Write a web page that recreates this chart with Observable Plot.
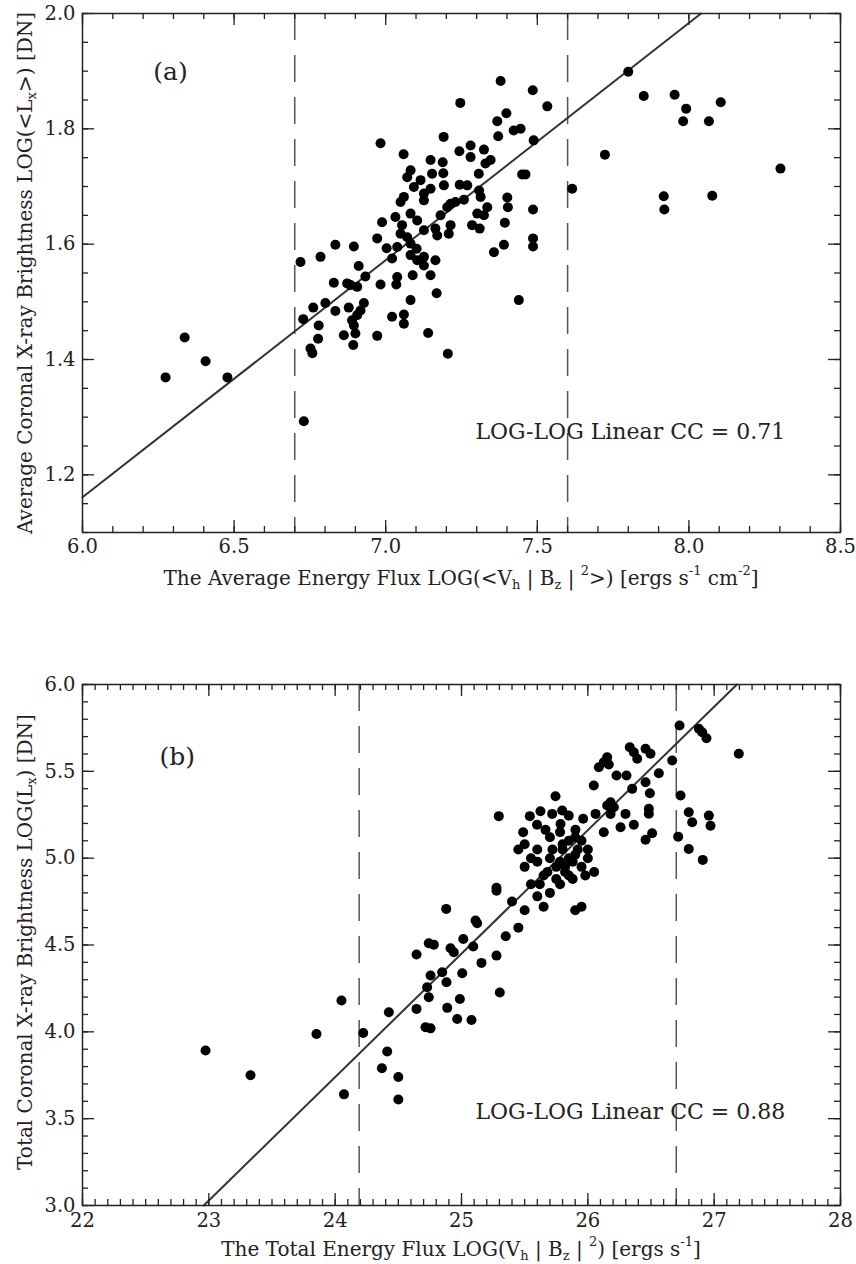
<!DOCTYPE html>
<html><head><meta charset="utf-8">
<script src="https://cdn.jsdelivr.net/npm/d3@7"></script>
<script src="https://cdn.jsdelivr.net/npm/@observablehq/plot@0.6"></script>
<style>
body{margin:0;background:#fff;}
#chart{width:856px;}
#chart svg{display:block;}
</style></head><body><div id="chart"></div>
<script>
// Panel (a)
const aX = [7.379,7.485,7.533,7.246,7.398,7.368,7.422,7.445,7.371,7.191,7.488,6.983,7.059,7.243,7.280,7.280,7.324,7.346,7.329,7.148,7.188,7.307,7.450,7.461,7.082,7.071,7.153,7.190,7.115,7.093,7.148,7.126,7.192,7.244,7.269,7.308,7.313,7.060,7.049,7.126,7.214,7.230,7.203,7.258,7.335,7.401,7.403,7.486,7.302,7.324,7.181,7.082,7.104,7.032,6.988,7.054,7.126,7.164,7.170,7.214,7.208,7.285,7.310,7.393,7.049,7.071,6.972,6.834,6.895,7.003,7.038,7.082,7.102,7.390,7.357,7.486,7.486,6.719,6.785,6.911,7.021,7.082,7.104,7.126,7.164,7.126,6.933,7.038,7.089,7.148,
6.829,6.873,6.884,6.906,6.983,7.035,7.168,7.082,7.439,6.761,6.801,6.834,6.878,6.928,6.917,6.906,6.728,6.779,6.889,6.895,7.021,7.060,7.060,6.777,6.862,6.900,6.893,6.972,7.140,6.752,6.758,7.205,6.730,
7.800,7.851,7.953,7.991,7.981,8.066,8.105,7.723,7.615,7.917,7.919,8.077,8.302,
6.274,6.337,6.406,6.478];
const aY = [1.883,1.867,1.839,1.845,1.827,1.813,1.797,1.800,1.787,1.786,1.780,1.775,1.756,1.761,1.771,1.751,1.764,1.746,1.740,1.746,1.742,1.722,1.721,1.721,1.728,1.716,1.722,1.723,1.711,1.699,1.696,1.688,1.702,1.703,1.702,1.693,1.682,1.682,1.673,1.676,1.670,1.673,1.664,1.677,1.664,1.681,1.664,1.660,1.653,1.650,1.650,1.653,1.641,1.647,1.638,1.633,1.624,1.627,1.615,1.633,1.618,1.633,1.627,1.637,1.618,1.612,1.610,1.599,1.596,1.593,1.595,1.601,1.592,1.599,1.586,1.610,1.596,1.569,1.578,1.562,1.575,1.581,1.572,1.578,1.572,1.563,1.544,1.543,1.546,1.546,
1.533,1.532,1.529,1.526,1.530,1.530,1.515,1.503,1.503,1.490,1.498,1.484,1.490,1.498,1.485,1.477,1.470,1.459,1.468,1.459,1.474,1.478,1.462,1.436,1.442,1.445,1.425,1.441,1.446,1.419,1.411,1.410,1.293,
1.899,1.857,1.859,1.835,1.813,1.813,1.846,1.755,1.696,1.683,1.660,1.684,1.731,
1.369,1.438,1.397,1.369];
const aFitX = [6.0, 8.04];
const aFitY = [1.161, 2.0];
const aDashes = [6.7, 7.6];
const aXTicks = [6.0, 6.5, 7.0, 7.5, 8.0, 8.5];
const aYTicks = [1.2, 1.4, 1.6, 1.8, 2.0];

// Panel (b)
const bX = [26.726,26.879,26.905,26.939,26.332,26.364,26.391,26.457,26.496,26.153,26.126,26.087,26.166,26.668,26.562,26.227,26.306,26.457,26.491,26.351,26.047,26.734,25.744,26.180,26.206,26.153,26.483,26.483,26.799,26.826,26.958,26.971,25.295,25.541,25.625,25.718,25.797,25.849,25.963,26.061,26.180,26.298,25.598,25.665,25.784,25.488,25.902,26.126,26.259,26.364,26.509,26.715,
27.195,26.457,26.799,26.910,
25.277,25.277,24.879,25.111,25.124,24.741,24.781,25.014,24.913,24.939,25.093,24.644,25.277,25.158,24.755,24.847,25.006,24.881,24.728,24.741,24.987,24.644,24.887,24.966,25.079,24.715,24.755,24.425,24.050,24.222,23.852,24.412,22.974,25.303,
25.45,25.50,25.60,25.65,25.70,25.75,25.80,25.82,25.85,25.88,25.90,25.95,26.00,25.78,25.70,25.60,25.55,25.40,25.45,25.35,25.95,25.90,25.65,26.05,25.50,
25.85,25.90,25.80,25.92,25.88,25.78,25.72,25.95,25.85,25.60,25.55,25.75,25.68,25.82,26.00,25.98,25.70,25.62,25.50,25.78,
23.33,24.07,24.37,24.50,24.50];
const bY = [5.764,5.745,5.725,5.691,5.639,5.610,5.572,5.630,5.601,5.581,5.552,5.523,5.539,5.562,5.489,5.476,5.476,5.437,5.374,5.399,5.418,5.361,5.357,5.322,5.293,5.303,5.284,5.256,5.264,5.207,5.245,5.187,5.242,5.242,5.270,5.255,5.274,5.245,5.227,5.255,5.255,5.255,5.192,5.163,5.197,5.149,5.163,5.149,5.178,5.192,5.143,5.124,
5.601,5.106,5.053,4.990,
4.829,4.813,4.708,4.641,4.625,4.510,4.502,4.535,4.481,4.458,4.491,4.445,4.439,4.397,4.324,4.343,4.337,4.285,4.257,4.199,4.189,4.132,4.138,4.074,4.068,4.026,4.020,4.113,4.180,3.993,3.988,3.887,3.892,4.227,
5.05,4.95,4.98,4.90,5.00,4.95,5.05,4.92,5.00,4.88,5.02,4.95,5.00,4.85,4.80,4.78,4.85,4.75,4.60,4.55,4.72,4.70,4.72,4.92,4.70,
5.10,5.12,5.08,5.05,4.98,4.98,5.05,5.10,4.90,5.05,5.00,4.88,4.92,4.95,5.05,4.90,5.12,4.85,5.08,5.15,
3.75,3.64,3.79,3.61,3.74];
const bFitX = [22.96, 27.18];
const bFitY = [3.0, 6.0];
const bDashes = [24.19, 26.70];
const bXTicks = [22, 23, 24, 25, 26, 27, 28];
const bYTicks = [3.0, 3.5, 4.0, 4.5, 5.0, 5.5, 6.0];

const FONT = "DejaVu Serif";
const INK = "#222";

function ticksMarks({xDom, yDom, w, h, xMaj, xMin, yMaj, yMin}) {
  const kx = (xDom[1]-xDom[0]) / w;
  const ky = (yDom[1]-yDom[0]) / h;
  const M = 12, m = 6;
  const s = {stroke: INK, strokeWidth: 1.3};
  return [
    Plot.ruleX(xMaj, {x: d => d, y1: yDom[0], y2: yDom[0] + M*ky, ...s}),
    Plot.ruleX(xMin, {x: d => d, y1: yDom[0], y2: yDom[0] + m*ky, ...s}),
    Plot.ruleX(xMaj, {x: d => d, y1: yDom[1], y2: yDom[1] - M*ky, ...s}),
    Plot.ruleX(xMin, {x: d => d, y1: yDom[1], y2: yDom[1] - m*ky, ...s}),
    Plot.ruleY(yMaj, {y: d => d, x1: xDom[0], x2: xDom[0] + M*kx, ...s}),
    Plot.ruleY(yMin, {y: d => d, x1: xDom[0], x2: xDom[0] + m*kx, ...s}),
    Plot.ruleY(yMaj, {y: d => d, x1: xDom[1], x2: xDom[1] - M*kx, ...s}),
    Plot.ruleY(yMin, {y: d => d, x1: xDom[1], x2: xDom[1] - m*kx, ...s})
  ];
}

function addLabel(svg, x, y, rot, parts, size) {
  const t = d3.select(svg).append("text")
    .attr("transform", `translate(${x},${y}) rotate(${rot})`)
    .attr("text-anchor", "middle")
    .attr("dominant-baseline", "central")
    .attr("font-family", FONT)
    .attr("font-size", size)
    .attr("fill", INK);
  let shift = 0;
  for (const [str, kind] of parts) {
    const target = kind === "sub" ? size*0.3 : kind === "sup" ? -size*0.4 : 0;
    t.append("tspan")
      .attr("dy", target - shift)
      .attr("font-size", kind ? size*0.65 : size)
      .text(str);
    shift = target;
  }
}

function range(a, b, s) { const out = []; for (let v = a; v <= b + 1e-9; v += s) out.push(+v.toFixed(4)); return out; }

const W = 856;
const TICKFS = 19.5, TITLEFS = 20, CCFS = 22, TAGFS = 25;
// ---------- panel (a) ----------
{
  const H = 600, mt = 13, mb = 68, ml = 82, mr = 16;
  const xDom = [6.0, 8.5], yDom = [1.1, 2.0];
  const pts = aX.map((x, i) => ({x, y: aY[i]}));
  const fit = aFitX.map((x, i) => ({x, y: aFitY[i]}));
  const p = Plot.plot({
    width: W, height: H, marginTop: mt, marginBottom: mb, marginLeft: ml, marginRight: mr,
    style: {fontFamily: FONT, fontSize: TICKFS + "px", color: INK, background: "#fff"},
    x: {domain: xDom}, y: {domain: yDom},
    marks: [
      Plot.ruleX(aDashes, {stroke: "#555", strokeWidth: 1.5, strokeDasharray: "27,15"}),
      Plot.line(fit, {x: "x", y: "y", stroke: "#333", strokeWidth: 2}),
      Plot.dot(pts, {x: "x", y: "y", r: 5, fill: "#000"}),
      ...ticksMarks({xDom, yDom, w: W-ml-mr, h: H-mt-mb,
        xMaj: aXTicks, xMin: range(6.0, 8.5, 0.1), yMaj: aYTicks, yMin: range(1.1, 2.0, 0.05)}),
      Plot.frame({stroke: INK, strokeWidth: 1.5}),
      Plot.axisX(aXTicks, {tickSize: 0, tickPadding: 7, tickFormat: d3.format(".1f"), label: null, fontSize: TICKFS}),
      Plot.axisY(aYTicks, {tickSize: 0, tickPadding: 7, tickFormat: d3.format(".1f"), label: null, fontSize: TICKFS}),
      Plot.text(["(a)"], {x: 6.29, y: 1.898, text: d => d, fontSize: TAGFS, fill: INK}),
      Plot.text(["LOG-LOG Linear CC = 0.71"], {x: 7.296, y: 1.274, text: d => d, textAnchor: "start", fontSize: CCFS, fill: INK})
    ]
  });
  document.getElementById("chart").append(p);
  addLabel(p, 461, 578, 0, [["The Average Energy Flux LOG(<V"], ["h","sub"], [" | B"], ["z","sub"], [" | "], ["2","sup"], [">) [ergs s"], ["-1","sup"], [" cm"], ["-2","sup"], ["]"]], TITLEFS);
  addLabel(p, 25, 273, -90, [["Average Coronal X-ray Brightness LOG(<L"], ["x","sub"], [">) [DN]"]], TITLEFS);
}
// ---------- panel (b) ----------
{
  const H = 664, mt = 84, mb = 59, ml = 82, mr = 16;
  const xDom = [22, 28], yDom = [3.0, 6.0];
  const pts = bX.map((x, i) => ({x, y: bY[i]}));
  const fit = bFitX.map((x, i) => ({x, y: bFitY[i]}));
  const p = Plot.plot({
    width: W, height: H, marginTop: mt, marginBottom: mb, marginLeft: ml, marginRight: mr,
    style: {fontFamily: FONT, fontSize: TICKFS + "px", color: INK, background: "#fff"},
    x: {domain: xDom}, y: {domain: yDom},
    marks: [
      Plot.ruleX(bDashes, {stroke: "#555", strokeWidth: 1.5, strokeDasharray: "27,15"}),
      Plot.line(fit, {x: "x", y: "y", stroke: "#333", strokeWidth: 2}),
      Plot.dot(pts, {x: "x", y: "y", r: 5, fill: "#000"}),
      ...ticksMarks({xDom, yDom, w: W-ml-mr, h: H-mt-mb,
        xMaj: bXTicks, xMin: range(22, 28, 0.1), yMaj: bYTicks, yMin: range(3.0, 6.0, 0.1)}),
      Plot.frame({stroke: INK, strokeWidth: 1.5}),
      Plot.axisX(bXTicks, {tickSize: 0, tickPadding: 8, tickFormat: d3.format("d"), label: null, fontSize: TICKFS}),
      Plot.axisY(bYTicks, {tickSize: 0, tickPadding: 7, tickFormat: d3.format(".1f"), label: null, fontSize: TICKFS}),
      Plot.text(["(b)"], {x: 22.75, y: 5.58, text: d => d, fontSize: TAGFS, fill: INK}),
      Plot.text(["LOG-LOG Linear CC = 0.88"], {x: 25.11, y: 3.54, text: d => d, textAnchor: "start", fontSize: CCFS, fill: INK})
    ]
  });
  document.getElementById("chart").append(p);
  addLabel(p, 461, 649, 0, [["The Total Energy Flux LOG(V"], ["h","sub"], [" | B"], ["z","sub"], [" | "], ["2","sup"], [") [ergs s"], ["-1","sup"], ["]"]], TITLEFS);
  addLabel(p, 25, 342, -90, [["Total Coronal X-ray Brightness LOG(L"], ["x","sub"], [") [DN]"]], TITLEFS);
}
</script></body></html>
